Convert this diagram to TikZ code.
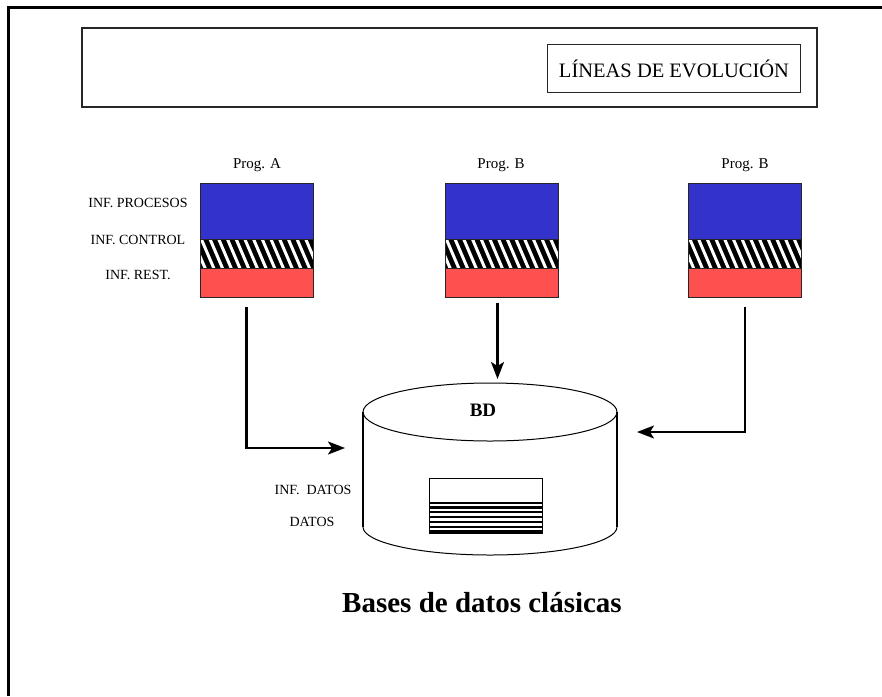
\documentclass[tikz,border=0pt]{standalone}
\usepackage{fontspec}
\setmainfont{Liberation Serif}
\usetikzlibrary{arrows.meta}
\definecolor{pblue}{RGB}{51,51,204}
\definecolor{pred}{RGB}{255,80,80}
\newcommand\progstack[2]{%
  \fill[pblue] (#2-56.5,183) rectangle (#2+56.5,239);
  \begin{scope}
    \clip (#2-56.5,239) rectangle (#2+56.5,268);
    \fill[black] (#2-56.5,239) rectangle (#2+56.5,268);
    \foreach \k in {-3,...,14} \draw[white,line width=3pt] (#2-56.5+\k*8.7,236) -- ++(15,35);
  \end{scope}
  \fill[pred] (#2-56.5,268) rectangle (#2+56.5,297);
  \draw[black!85,line width=1pt] (#2-56.5,239) -- (#2+56.5,239) (#2-56.5,268) -- (#2+56.5,268);
  \node[progbox] (#1) at (#2,240) {};
}
\begin{document}
\begin{tikzpicture}[x=1pt,y=-1pt,
  lbl/.style={font=\fontsize{14}{14}\selectfont, inner sep=0},
  prog/.style={font=\fontsize{15}{15}\selectfont, inner sep=0},
  arr/.style={line width=2.2pt, -{Stealth[length=17pt,width=13pt,inset=4pt]}},
  progbox/.style={draw=black!85, line width=1pt, minimum width=113pt, minimum height=114pt, inner sep=0},
  frameline/.style={draw=black!85, line width=1.3pt}
]
\useasboundingbox (0,0) rectangle (882,696);
\fill[white] (0,0) rectangle (882,696);
% outer frame
\draw[line width=3pt] (882,7) -- (8,7) -- (8,696);
% header
\node[frameline, minimum width=735pt, minimum height=79pt, inner sep=0] (header) at (449.5,67.5) {};
\node[frameline, minimum width=253pt, minimum height=48pt, inner sep=0, font=\fontsize{20.5}{20.5}\selectfont] (lineas) at (674,68.5) {LÍNEAS DE EVOLUCIÓN};
% program stacks
\progstack{pa}{256.5}
\progstack{pb}{501.5}
\progstack{pc}{745}
\node[prog] (tpa) at (257,165) {Prog. A};
\node[prog] (tpb) at (501,165) {Prog. B};
\node[prog] (tpc) at (745,165) {Prog. B};
\node[lbl] (lproc) at (138,203) {INF. PROCESOS};
\node[lbl] (lctrl) at (138,240) {INF. CONTROL};
\node[lbl] (lrest) at (138,275) {INF. REST.};
% database cylinder
\node[minimum width=254pt, minimum height=172pt, inner sep=0] (bd) at (490,469) {};
\draw[line width=1pt] (490,412) ellipse[x radius=127pt, y radius=29pt];
\draw[line width=1pt] (363,527) arc[start angle=180, end angle=360, x radius=127pt, y radius=28pt];
\draw[line width=2pt] (363,412) -- (363,527) (617,412) -- (617,527);
\node[font=\bfseries\fontsize{19}{19}\selectfont, inner sep=0] (tbd) at (483,410) {BD};
% data box
\draw[line width=0.8pt] (429,478) rectangle (542,533);
\foreach \yy in {503,507.5,512,517,522,527,531.5} \draw[line width=2.4pt] (430,\yy) -- (543,\yy);
\node[lbl] (ldatos) at (313,490) {INF.\ \ DATOS};
\node[lbl] (datos) at (312,522) {DATOS};
% arrows
\coordinate (ltip) at (345,448);
\coordinate (mtip) at (497.5,379);
\coordinate (rtip) at (637,432);
\draw[arr] ([xshift=-10pt,yshift=-9pt]pa.south) |- (ltip);
\draw[arr] ([xshift=-4pt,yshift=-5pt]pb.south) -- (mtip);
\draw[arr] ([yshift=-9pt]pc.south) |- (rtip);
% caption
\node[font=\bfseries\fontsize{29}{29}\selectfont, inner sep=0] (caption) at (482,603) {Bases de datos clásicas};
\end{tikzpicture}
\end{document}
